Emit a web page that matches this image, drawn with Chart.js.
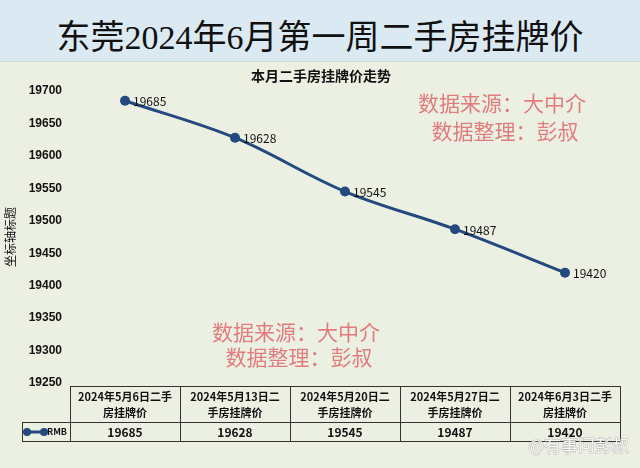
<!DOCTYPE html>
<html>
<head>
<meta charset="utf-8">
<script src="https://cdn.jsdelivr.net/npm/chart.js@4"></script>
<style>
    html, body { margin: 0; padding: 0; }
    body { width: 640px; height: 468px; background: #ebf0e2; overflow: hidden; font-family: "Noto Sans CJK SC", sans-serif; }
    #header {
        height: 62px; background: #dbeaf2; border-bottom: 1px solid #cfdccf;
        text-align: center; line-height: 76px; font-size: 34px; color: #111;
        font-family: "Liberation Serif", "Noto Sans CJK SC", serif;
        box-sizing: border-box;
    }
    #wrap { position: relative; width: 640px; height: 406px; }
</style>
</head>
<body>
<div id="header">东莞2024年6月第一周二手房挂牌价</div>
<div id="wrap"><canvas id="my-Listing-Chart"></canvas></div>
<script>
// categories (two lines each, as in the data table)
const categories = [
    ['2024年5月6日二手', '房挂牌价'],
    ['2024年5月13日二', '手房挂牌价'],
    ['2024年5月20日二', '手房挂牌价'],
    ['2024年5月27日二', '手房挂牌价'],
    ['2024年6月3日二手', '房挂牌价']
];
const seriesName = 'RMB';
const prices = [19685, 19628, 19545, 19487, 19420];
const yTicks = [19250, 19300, 19350, 19400, 19450, 19500, 19550, 19600, 19650, 19700];

const lineColor = '#24497f';
const cjk = '"Noto Sans CJK SC", sans-serif';

// label angka di samping titik
const pointLabels = {
    id: 'pointLabels',
    afterDatasetsDraw(chart) {
        const ctx = chart.ctx;
        const meta = chart.getDatasetMeta(0);
        ctx.save();
        ctx.font = '12px ' + cjk;
        ctx.fillStyle = '#111';
        ctx.textAlign = 'left';
        ctx.textBaseline = 'middle';
        meta.data.forEach((pt, i) => {
            ctx.fillText(String(prices[i]), pt.x + 8, pt.y + 1);
        });
        ctx.restore();
    }
};

// judul, watermark, tabel data
const extras = {
    id: 'extras',
    afterDraw(chart) {
        const ctx = chart.ctx;
        const x = chart.scales.x;
        ctx.save();

        // chart title
        ctx.font = 'bold 14px ' + cjk;
        ctx.fillStyle = '#111';
        ctx.textAlign = 'center';
        ctx.textBaseline = 'middle';
        ctx.fillText('本月二手房挂牌价走势', 321, 14);

        // watermark text
        ctx.font = '21px ' + cjk;
        ctx.fillStyle = 'rgba(222, 95, 100, 0.8)';
        ctx.fillText('数据来源：大中介', 502, 41);
        ctx.fillText('数据整理：彭叔', 505, 69);
        ctx.fillText('数据来源：大中介', 296, 270);
        ctx.fillText('数据整理：彭叔', 299, 295);

        // data table
        const n = categories.length;
        const step = (x.getPixelForValue(1) - x.getPixelForValue(0));
        const left = x.getPixelForValue(0) - step / 2;
        const right = x.getPixelForValue(n - 1) + step / 2;
        const top = 324, mid = 360, bottom = 379, legendLeft = 22;
        ctx.strokeStyle = '#333';
        ctx.lineWidth = 1;
        ctx.beginPath();
        ctx.moveTo(left, top + 0.5); ctx.lineTo(right, top + 0.5);
        ctx.moveTo(legendLeft, mid + 0.5); ctx.lineTo(right, mid + 0.5);
        ctx.moveTo(legendLeft, bottom + 0.5); ctx.lineTo(right, bottom + 0.5);
        ctx.moveTo(legendLeft + 0.5, mid); ctx.lineTo(legendLeft + 0.5, bottom);
        for (let i = 0; i <= n; i++) {
            const bx = Math.round(left + step * i) + 0.5;
            ctx.moveTo(bx, top); ctx.lineTo(bx, bottom);
        }
        ctx.stroke();

        ctx.fillStyle = '#111';
        ctx.font = 'bold 11px ' + cjk;
        categories.forEach((lab, i) => {
            const cx = x.getPixelForValue(i);
            ctx.fillText(lab[0], cx, top + 11);
            ctx.fillText(lab[1], cx, top + 27);
        });
        ctx.font = 'bold 12px ' + cjk;
        prices.forEach((v, i) => {
            ctx.fillText(String(v), x.getPixelForValue(i), mid + 10);
        });

        // legend key in table
        ctx.strokeStyle = lineColor;
        ctx.lineWidth = 3;
        ctx.beginPath();
        ctx.moveTo(27, mid + 10); ctx.lineTo(44, mid + 10);
        ctx.stroke();
        ctx.fillStyle = lineColor;
        [27, 44].forEach(px => {
            ctx.beginPath(); ctx.arc(px, mid + 10, 4, 0, Math.PI * 2); ctx.fill();
        });
        ctx.fillStyle = '#111';
        ctx.font = 'bold 9px ' + cjk;
        ctx.textAlign = 'left';
        ctx.fillText(seriesName, 47, mid + 10);

        // platform watermark
        ctx.font = '17px ' + cjk;
        ctx.fillStyle = 'rgba(255, 255, 255, 0.85)';
        ctx.strokeStyle = 'rgba(150, 150, 150, 0.6)';
        ctx.lineWidth = 1;
        ctx.strokeText('@有事问彭叔', 528, 384);
        ctx.fillText('@有事问彭叔', 528, 384);

        ctx.restore();
    }
};

function createListingChart() {
    const ctx = document.getElementById('my-Listing-Chart').getContext('2d');
    new Chart(ctx, {
        type: 'line',
        data: {
            labels: categories.map(c => c.join('')),
            datasets: [{
                label: seriesName,
                data: prices,
                borderColor: lineColor,
                backgroundColor: lineColor,
                borderWidth: 3,
                tension: 0.35,
                pointRadius: 5,
                pointBackgroundColor: lineColor,
                pointBorderWidth: 0
            }]
        },
        options: {
            responsive: true,
            maintainAspectRatio: false,
            animation: false,
            layout: {
                padding: { top: 29, bottom: 85, left: 0, right: 20 }
            },
            plugins: {
                legend: { display: false },
                tooltip: { enabled: false }
            },
            scales: {
                x: {
                    type: 'category',
                    offset: true,
                    display: false
                },
                y: {
                    min: 19250,
                    max: 19700,
                    afterFit: (s) => { s.width = 70; },
                    afterBuildTicks: (s) => { s.ticks = yTicks.map(v => ({ value: v })); },
                    grid: { display: false, drawTicks: false },
                    border: { display: false },
                    ticks: {
                        padding: 8,
                        color: '#111',
                        callback: (v) => String(v),
                        font: { family: 'Liberation Sans', size: 12, weight: 'bold' }
                    },
                    title: {
                        display: true,
                        text: '坐标轴标题',
                        color: '#111',
                        padding: 3,
                        font: { family: 'Noto Sans CJK SC', size: 12 }
                    }
                }
            }
        },
        plugins: [pointLabels, extras]
    });
}

createListingChart()
</script>
</body>
</html>
